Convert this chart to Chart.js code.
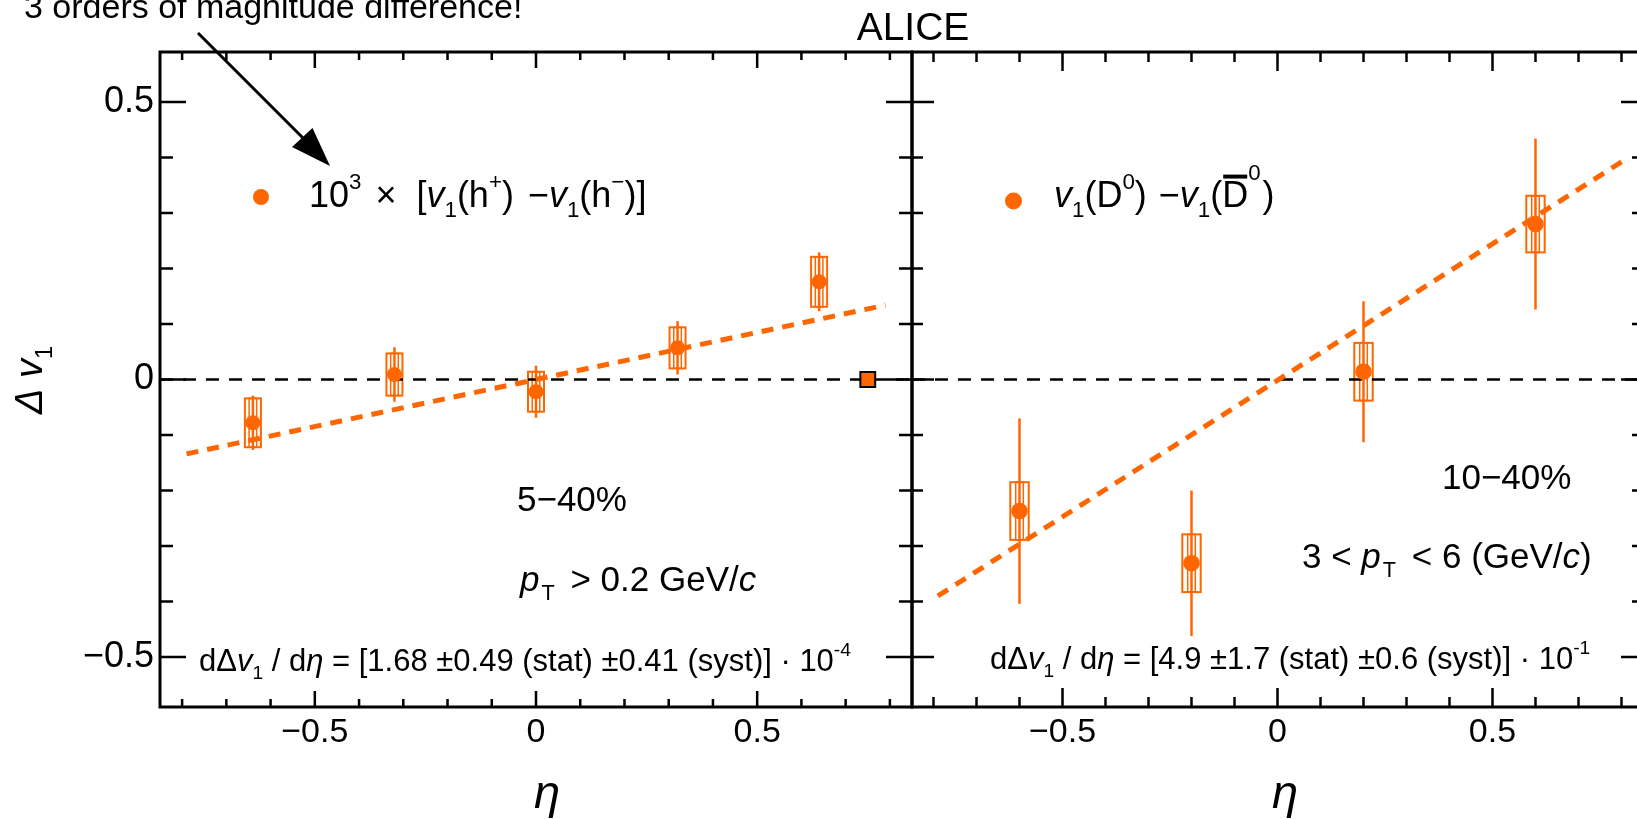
<!DOCTYPE html>
<html>
<head>
<meta charset="utf-8">
<script src="https://cdn.jsdelivr.net/npm/chart.js@4.4.1/dist/chart.umd.min.js"></script>
<style>
  html, body { margin: 0; padding: 0; background: #fff; overflow: hidden; width: 1637px; height: 819px; }
  canvas { position: absolute; left: 0; top: 0; }
</style>
</head>
<body>
<canvas id="left" width="1660" height="819"></canvas>
<canvas id="right" width="1660" height="819"></canvas>
<script>
// charged hadrons, 5-40%, values scaled by 10^3
const etaH = [-0.64, -0.32, 0.0, 0.32, 0.64];
const dv1H = [-0.078, 0.009, -0.022, 0.057, 0.176];
const statH = [0.049, 0.049, 0.047, 0.048, 0.053];
const systH = [0.044, 0.038, 0.036, 0.037, 0.045];
const fitEtaH = [-0.79, 0.79];
const fitH = [-0.134, 0.134];
const normEtaH = [0.75];
const normH = [0];

// D0 - D0bar, 10-40%
const etaD = [-0.6, -0.2, 0.2, 0.6];
const dv1D = [-0.237, -0.331, 0.014, 0.280];
const statD = [0.167, 0.131, 0.127, 0.154];
const systD = [0.052, 0.052, 0.052, 0.051];
const fitEtaD = [-0.79, 0.80];
const fitD = [-0.390, 0.392];

const zeroEta = [-0.85, 0.85];
const zeroV = [0, 0];

const xTickVals = [-0.5, 0, 0.5];
const yTickVals = [-0.5, 0, 0.5];

const ORANGE = '#ff6600';
const FONT = '"Liberation Sans", Arial, sans-serif';
Chart.defaults.font.family = FONT;

const pts = (xs, ys) => xs.map((x, i) => ({x, y: ys[i]}));
const fmt = v => v < 0 ? '\u2212' + (-v) : String(v);

// small TLatex-like text: parts are strings, [text, flags] or numbers (gap in px)
// flags: i italic, b subscript, p superscript, P high superscript, o overline
function rich(ctx, parts, x, y, F, align) {
  const items = parts.map(p => {
    if (typeof p === 'number') return {gap: p};
    const [t, f] = Array.isArray(p) ? [p[0], p[1] || ''] : [p, ''];
    const small = /[bpP]/.test(f);
    const size = small ? F * 0.62 : F;
    const font = (f.includes('i') ? 'italic ' : '') + size + 'px ' + FONT;
    ctx.font = font;
    const w = ctx.measureText(t).width;
    let dy = 0;
    if (f.includes('b')) dy = F * 0.27;
    if (f.includes('p')) dy = -F * 0.5;
    if (f.includes('P')) dy = -F * 0.75;
    return {t, font, w, dy, over: f.includes('o')};
  });
  const total = items.reduce((s, it) => s + (it.gap !== undefined ? it.gap : it.w), 0);
  let cx = align === 'center' ? x - total / 2 : align === 'right' ? x - total : x;
  ctx.textAlign = 'left';
  ctx.textBaseline = 'alphabetic';
  for (const it of items) {
    if (it.gap !== undefined) { cx += it.gap; continue; }
    ctx.font = it.font;
    ctx.fillText(it.t, cx, y + it.dy);
    if (it.over) ctx.fillRect(cx + 1, y - F * 0.9, it.w - 2, F * 0.11);
    cx += it.w;
  }
}

const rootFrame = {
  id: 'rootFrame',
  afterDraw(chart, args, o) {
    const {ctx, chartArea: a, scales: {x, y}} = chart;
    ctx.save();
    ctx.strokeStyle = '#000';
    ctx.lineWidth = 2.5;
    ctx.beginPath();
    for (let k = -8; k <= 8; k++) {
      const px = x.getPixelForValue(k / 10);
      const len = k % 5 === 0 ? o.xMajor : o.xMinor;
      ctx.moveTo(px, a.bottom); ctx.lineTo(px, a.bottom - len);
      ctx.moveTo(px, a.top); ctx.lineTo(px, a.top + len);
    }
    for (let k = -5; k <= 5; k++) {
      const py = y.getPixelForValue(k / 10);
      const len = k % 5 === 0 ? o.yMajor : o.yMinor;
      ctx.moveTo(a.left, py); ctx.lineTo(a.left + len, py);
      ctx.moveTo(a.right, py); ctx.lineTo(a.right - len, py);
    }
    ctx.stroke();
    ctx.lineWidth = 3;
    ctx.strokeRect(a.left, a.top, a.right - a.left, a.bottom - a.top);
    ctx.restore();
  }
};

const errBoxes = {
  id: 'errBoxes',
  beforeDatasetsDraw(chart, args, o) {
    const {ctx, scales: {x, y}} = chart;
    ctx.save();
    ctx.strokeStyle = ORANGE;
    o.eta.forEach((e, i) => {
      const px = x.getPixelForValue(e);
      const v = o.val[i];
      const yt = y.getPixelForValue(v + o.syst[i]);
      const yb = y.getPixelForValue(v - o.syst[i]);
      ctx.lineWidth = 2;
      ctx.strokeRect(px - o.half, yt, 2 * o.half, yb - yt);
      ctx.lineWidth = 1.5;
      ctx.strokeRect(px - o.inner, yt, 2 * o.inner, yb - yt);
      ctx.lineWidth = 2.5;
      ctx.beginPath();
      ctx.moveTo(px, y.getPixelForValue(v + o.stat[i]));
      ctx.lineTo(px, y.getPixelForValue(v - o.stat[i]));
      ctx.stroke();
    });
    ctx.restore();
  }
};

const leftText = {
  id: 'leftText',
  afterDraw(chart) {
    const ctx = chart.ctx;
    ctx.save();
    ctx.fillStyle = '#000';
    ctx.strokeStyle = '#000';

    ctx.font = '39px ' + FONT;
    ctx.textAlign = 'center';
    ctx.fillText('ALICE', 913, 40);
    rich(ctx, ['3 orders of magnitude difference!'], 24, 18, 34);

    // arrow
    ctx.lineWidth = 3;
    ctx.beginPath();
    ctx.moveTo(198, 33);
    ctx.lineTo(303, 138);
    ctx.stroke();
    ctx.beginPath();
    ctx.moveTo(330, 166);
    ctx.lineTo(292, 147);
    ctx.lineTo(312.5, 128);
    ctx.closePath();
    ctx.fill();

    // legend
    ctx.fillStyle = ORANGE;
    ctx.beginPath();
    ctx.arc(261, 197, 8, 0, Math.PI * 2);
    ctx.fill();
    ctx.fillStyle = '#000';
    rich(ctx, ['10', ['3', 'p'], 14, '\u00d7', 20, '[', ['v', 'i'], ['1', 'b'], '(h', ['+', 'p'], ')', 14,
      '\u2212', ['v', 'i'], ['1', 'b'], '(h', ['\u2212', 'p'], ')]'], 309, 207, 36);

    rich(ctx, ['5\u221240%'], 517, 511, 35);
    rich(ctx, [['p', 'i'], 2, ['T', 'b'], 6, ' > 0.2 GeV/', ['c', 'i']], 520, 591, 35);
    rich(ctx, ['d\u0394', ['v', 'i'], ['1', 'b'], ' / d', ['\u03b7', 'i'],
      ' = [1.68 \u00b10.49 (stat) \u00b10.41 (syst)] \u00b7 10', ['-4', 'p']], 199, 671, 31);

    // axis titles
    ctx.font = 'italic 47px ' + FONT;
    ctx.textAlign = 'center';
    ctx.fillText('\u03b7', 547, 808);
    ctx.save();
    ctx.translate(42, 380);
    ctx.rotate(-Math.PI / 2);
    rich(ctx, [['\u0394', 'i'], ' ', ['v', 'i'], ['1', 'b']], 0, 0, 38, 'center');
    ctx.restore();
    ctx.restore();
  }
};

const rightText = {
  id: 'rightText',
  afterDraw(chart) {
    const ctx = chart.ctx;
    ctx.save();
    ctx.fillStyle = ORANGE;
    ctx.beginPath();
    ctx.arc(1013.5, 201, 8.5, 0, Math.PI * 2);
    ctx.fill();
    ctx.fillStyle = '#000';
    rich(ctx, [['v', 'i'], ['1', 'b'], '(D', ['0', 'p'], ')', 12, '\u2212', ['v', 'i'], ['1', 'b'], '(',
      ['D', 'o'], ['0', 'P'], 2, ')'], 1054, 207, 36);
    rich(ctx, ['10\u221240%'], 1442, 489, 35);
    rich(ctx, ['3 < ', ['p', 'i'], 2, ['T', 'b'], 6, ' < 6 (GeV/', ['c', 'i'], ')'], 1302, 568, 35);
    rich(ctx, ['d\u0394', ['v', 'i'], ['1', 'b'], ' / d', ['\u03b7', 'i'],
      ' = [4.9 \u00b11.7 (stat) \u00b10.6 (syst)] \u00b7 10', ['-1', 'p']], 990, 669, 31);
    ctx.font = 'italic 47px ' + FONT;
    ctx.textAlign = 'center';
    ctx.fillText('\u03b7', 1285, 808);
    ctx.restore();
  }
};

function xScale() {
  return {
    type: 'linear', min: zeroEta[0], max: zeroEta[1],
    afterBuildTicks: s => { s.ticks = xTickVals.map(v => ({value: v})); },
    afterFit: s => { s.height = 112; },
    grid: {display: false, drawTicks: false},
    border: {display: false},
    ticks: {font: {size: 34}, color: '#000', padding: 5, maxRotation: 0, autoSkip: false, callback: v => fmt(v)}
  };
}

function yScale(show) {
  return {
    type: 'linear', min: -0.59, max: 0.59, display: show,
    afterBuildTicks: s => { s.ticks = yTickVals.map(v => ({value: v})); },
    afterFit: s => { s.width = show ? 160 : 0; },
    grid: {display: false, drawTicks: false},
    border: {display: false},
    ticks: {font: {size: 36}, color: '#000', padding: 6, callback: v => fmt(v)}
  };
}

const common = {
  responsive: false,
  devicePixelRatio: 1,
  animation: false,
  events: [],
  plugins: {legend: {display: false}, tooltip: {enabled: false}, title: {display: false}}
};

new Chart(document.getElementById('left'), {
  type: 'scatter',
  data: {
    datasets: [
      {data: pts(etaH, dv1H), pointRadius: 7.5, backgroundColor: ORANGE, borderWidth: 0},
      {data: pts(normEtaH, normH), pointStyle: 'rect', pointRadius: 10.5, backgroundColor: ORANGE,
        borderColor: '#000', borderWidth: 2},
      {data: pts(fitEtaH, fitH), showLine: true, pointRadius: 0, borderColor: ORANGE, borderWidth: 5,
        borderDash: [12, 9], borderCapStyle: 'butt'},
      {data: pts(zeroEta, zeroV), showLine: true, pointRadius: 0, borderColor: '#000', borderWidth: 2.5,
        borderDash: [13, 10]}
    ]
  },
  options: {
    ...common,
    layout: {padding: {left: 0, top: 52, right: 748, bottom: 0}},
    scales: {x: xScale(), y: yScale(true)},
    plugins: {
      ...common.plugins,
      rootFrame: {xMajor: 16, xMinor: 8, yMajor: 26, yMinor: 13},
      errBoxes: {eta: etaH, val: dv1H, stat: statH, syst: systH, half: 8, inner: 3.8}
    }
  },
  plugins: [rootFrame, errBoxes, leftText]
});

new Chart(document.getElementById('right'), {
  type: 'scatter',
  data: {
    datasets: [
      {data: pts(etaD, dv1D), pointRadius: 8.3, backgroundColor: ORANGE, borderWidth: 0},
      {data: pts(fitEtaD, fitD), showLine: true, pointRadius: 0, borderColor: ORANGE, borderWidth: 5,
        borderDash: [12, 9], borderCapStyle: 'butt'},
      {data: pts(zeroEta, zeroV), showLine: true, pointRadius: 0, borderColor: '#000', borderWidth: 2.5,
        borderDash: [13, 10]}
    ]
  },
  options: {
    ...common,
    layout: {padding: {left: 912, top: 52, right: 17, bottom: 0}},
    scales: {x: xScale(), y: yScale(false)},
    plugins: {
      ...common.plugins,
      rootFrame: {xMajor: 19, xMinor: 10, yMajor: 22, yMinor: 11},
      errBoxes: {eta: etaD, val: dv1D, stat: statD, syst: systD, half: 9.2, inner: 3.8}
    }
  },
  plugins: [rootFrame, errBoxes, rightText]
});
</script>
</body>
</html>
